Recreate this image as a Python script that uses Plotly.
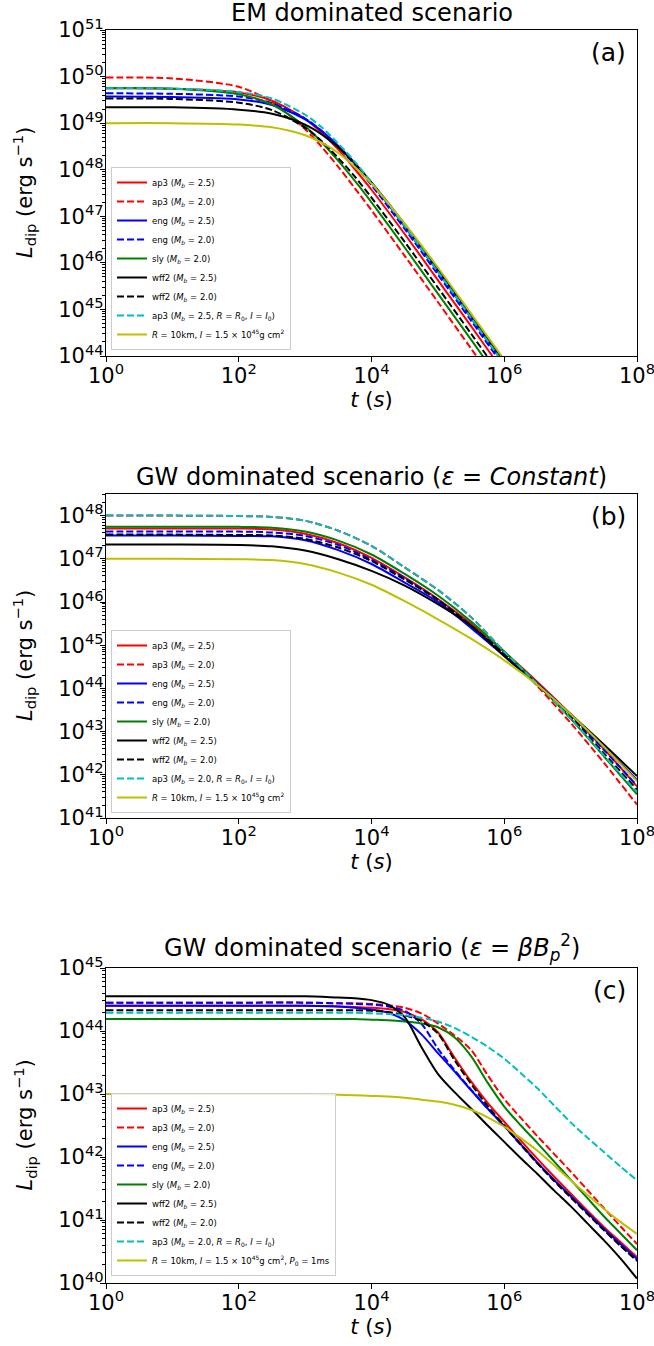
import numpy as np
import plotly.graph_objects as go

# ---------------- data (log10 values) ----------------
# panel (a): EM dominated
ta = [0, 1, 2, 2.5, 3, 3.25, 3.5, 3.75, 4, 4.5, 5, 5.5, 6, 6.5]
a_ap3_25 = [49.75, 49.74, 49.66, 49.48, 49.09, 48.79, 48.43, 48.01, 47.57, 46.62, 45.63, 44.64, 43.64, 42.64]
a_ap3_20 = [49.98, 49.96, 49.78, 49.46, 48.87, 48.49, 48.06, 47.60, 47.13, 46.15, 45.16, 44.16, 43.16, 42.16]
a_eng_25 = [49.57, 49.56, 49.51, 49.39, 49.08, 48.83, 48.51, 48.14, 47.71, 46.78, 45.81, 44.82, 43.82, 42.82]
a_eng_20 = [49.64, 49.63, 49.57, 49.43, 49.10, 48.83, 48.49, 48.10, 47.67, 46.73, 45.75, 44.76, 43.76, 42.76]
a_sly_20 = [49.75, 49.74, 49.62, 49.40, 48.93, 48.59, 48.19, 47.76, 47.30, 46.33, 45.34, 44.35, 43.35, 42.35]
a_wff2_25 = [49.34, 49.34, 49.29, 49.20, 48.97, 48.76, 48.48, 48.13, 47.73, 46.83, 45.86, 44.88, 43.88, 42.88]
a_wff2_20 = [49.53, 49.52, 49.44, 49.28, 48.90, 48.61, 48.25, 47.85, 47.40, 46.45, 45.47, 44.48, 43.48, 42.48]
a_ap3_R0 = [49.75, 49.74, 49.67, 49.53, 49.18, 48.91, 48.56, 48.17, 47.73, 46.79, 45.81, 44.82, 43.82, 42.82]
a_R10 = [49.00, 49.00, 48.97, 48.91, 48.74, 48.58, 48.36, 48.06, 47.70, 46.84, 45.90, 44.91, 43.92, 42.92]

# panel (b): GW dominated, eps constant
tb = [0, 1, 2, 2.5, 3, 3.5, 4, 4.5, 5, 5.5, 6, 6.5, 7, 7.5, 8]
b_ap3_25 = [47.70, 47.70, 47.70, 47.68, 47.58, 47.36, 47.02, 46.57, 46.07, 45.50, 44.85, 44.15, 43.40, 42.60, 41.73]
b_ap3_20 = [48.00, 48.00, 47.99, 47.97, 47.88, 47.65, 47.30, 46.80, 46.28, 45.65, 44.85, 44.05, 43.20, 42.28, 41.31]
b_eng_25 = [47.54, 47.54, 47.53, 47.52, 47.43, 47.20, 46.88, 46.45, 46.00, 45.40, 44.75, 44.10, 43.40, 42.65, 41.88]
b_eng_20 = [47.63, 47.63, 47.63, 47.61, 47.53, 47.32, 46.98, 46.55, 46.05, 45.45, 44.80, 44.12, 43.38, 42.58, 41.75]
b_sly_20 = [47.74, 47.74, 47.74, 47.72, 47.63, 47.42, 47.10, 46.65, 46.15, 45.55, 44.85, 44.10, 43.30, 42.43, 41.55]
b_wff2_25 = [47.33, 47.33, 47.32, 47.29, 47.19, 46.99, 46.72, 46.38, 45.95, 45.45, 44.75, 44.08, 43.40, 42.70, 41.97]
b_wff2_20 = [47.56, 47.56, 47.55, 47.54, 47.46, 47.26, 46.95, 46.52, 46.05, 45.45, 44.80, 44.10, 43.35, 42.50, 41.66]
b_ap3_R0 = [48.00, 48.00, 47.99, 47.97, 47.88, 47.65, 47.30, 46.80, 46.28, 45.65, 44.85, 44.10, 43.30, 42.45, 41.60]
b_R10 = [47.00, 47.00, 46.99, 46.97, 46.88, 46.68, 46.40, 46.02, 45.60, 45.15, 44.65, 44.08, 43.40, 42.65, 41.85]

# panel (c): GW dominated, eps = beta Bp^2
tc = [0, 1, 2, 3, 3.5, 3.75, 4, 4.25, 4.5, 4.75, 5, 5.25, 5.5, 5.75, 6, 6.25, 6.5, 6.75, 7, 7.25, 7.5, 7.75, 8]
c_ap3_25 = [44.40, 44.40, 44.40, 44.40, 44.39, 44.38, 44.37, 44.35, 44.30, 44.19, 43.98, 43.58, 43.20, 42.86,
            42.56, 42.26, 41.97, 41.69, 41.42, 41.15, 40.89, 40.65, 40.41]
c_ap3_20 = [44.45, 44.45, 44.45, 44.45, 44.44, 44.44, 44.43, 44.41, 44.37, 44.28, 44.12, 43.93, 43.70, 43.30,
            42.92, 42.62, 42.33, 42.05, 41.77, 41.48, 41.19, 40.90, 40.62]
c_eng_25 = [44.40, 44.40, 44.40, 44.40, 44.39, 44.37, 44.34, 44.29, 44.17, 43.95, 43.65, 43.36, 43.06, 42.77,
            42.49, 42.20, 41.91, 41.64, 41.38, 41.12, 40.86, 40.62, 40.38]
c_eng_20 = [44.45, 44.45, 44.45, 44.45, 44.44, 44.43, 44.42, 44.39, 44.32, 44.12, 43.72, 43.38, 43.07, 42.77,
            42.49, 42.19, 41.90, 41.63, 41.37, 41.11, 40.85, 40.60, 40.36]
c_sly_20 = [44.19, 44.19, 44.19, 44.19, 44.19, 44.19, 44.18, 44.17, 44.15, 44.12, 44.06, 43.90, 43.60, 43.18,
            42.80, 42.50, 42.22, 41.93, 41.64, 41.35, 41.06, 40.79, 40.52]
c_wff2_25 = [44.55, 44.55, 44.55, 44.55, 44.53, 44.52, 44.49, 44.42, 44.22, 43.75, 43.32, 43.03, 42.77, 42.50,
             42.24, 41.98, 41.73, 41.47, 41.22, 40.95, 40.68, 40.39, 40.07]
c_wff2_20 = [44.33, 44.33, 44.33, 44.33, 44.33, 44.33, 44.32, 44.30, 44.25, 44.16, 43.96, 43.54, 43.16, 42.81,
             42.50, 42.20, 41.90, 41.62, 41.36, 41.10, 40.84, 40.59, 40.35]
c_ap3_R0 = [44.29, 44.29, 44.29, 44.29, 44.29, 44.29, 44.28, 44.27, 44.25, 44.21, 44.15, 44.05, 43.91, 43.75,
            43.56, 43.33, 43.09, 42.82, 42.55, 42.31, 42.08, 41.85, 41.63]
c_R10 = [43.00, 43.00, 43.00, 43.00, 42.99, 42.98, 42.97, 42.96, 42.94, 42.91, 42.88, 42.83, 42.75, 42.63,
         42.48, 42.30, 42.10, 41.87, 41.63, 41.40, 41.18, 40.97, 40.78]

x_tick_exp = [0, 2, 4, 6, 8]
ya_tick_exp = [44, 45, 46, 47, 48, 49, 50, 51]
yb_tick_exp = [41, 42, 43, 44, 45, 46, 47, 48]
yc_tick_exp = [40, 41, 42, 43, 44, 45]

mb = "(<i>M</i><sub><i>b</i></sub> = "
names_common = [
    "ap3 " + mb + "2.5)", "ap3 " + mb + "2.0)",
    "eng " + mb + "2.5)", "eng " + mb + "2.0)",
    "sly " + mb + "2.0)",
    "wff2 " + mb + "2.5)", "wff2 " + mb + "2.0)",
]
cyan_a = "ap3 " + mb + "2.5, <i>R</i> = <i>R</i><sub>0</sub>, <i>I</i> = <i>I</i><sub>0</sub>)"
cyan_bc = "ap3 " + mb + "2.0, <i>R</i> = <i>R</i><sub>0</sub>, <i>I</i> = <i>I</i><sub>0</sub>)"
yel_ab = "<i>R</i> = 10km, <i>I</i> = 1.5 × 10<sup>45</sup>g cm<sup>2</sup>"
yel_c = yel_ab + ", <i>P</i><sub>0</sub> = 1ms"

colors = ["#ff0000", "#ff0000", "#0000ff", "#0000ff", "#008000", "#000000", "#000000", "#00bfbf", "#bfbf00"]
dashes = ["solid", "7px,3px", "solid", "7px,3px", "solid", "solid", "7px,3px", "7px,3px", "solid"]

panels = [
    (ta, [a_ap3_25, a_ap3_20, a_eng_25, a_eng_20, a_sly_20, a_wff2_25, a_wff2_20, a_ap3_R0, a_R10],
     names_common + [cyan_a, yel_ab], "x", "y", "legend"),
    (tb, [b_ap3_25, b_ap3_20, b_eng_25, b_eng_20, b_sly_20, b_wff2_25, b_wff2_20, b_ap3_R0, b_R10],
     names_common + [cyan_bc, yel_ab], "x2", "y2", "legend2"),
    (tc, [c_ap3_25, c_ap3_20, c_eng_25, c_eng_20, c_sly_20, c_wff2_25, c_wff2_20, c_ap3_R0, c_R10],
     names_common + [cyan_bc, yel_c], "x3", "y3", "legend3"),
]

fig = go.Figure()
for t_exp, series, names, xa, ya, lg in panels:
    tt = np.power(10.0, np.array(t_exp, dtype=float))
    for s, nm, col, ds in zip(series, names, colors, dashes):
        fig.add_trace(go.Scatter(
            x=tt, y=np.power(10.0, np.array(s, dtype=float)), mode="lines", name=nm,
            line=dict(color=col, width=2, dash=ds, shape="spline", smoothing=0.8),
            xaxis=xa, yaxis=ya, legend=lg, showlegend=True))

FONT = "DejaVu Sans"
L, R, T, B = 106, 17, 30, 63
W, H = 654, 1346
ph = H - T - B
pw = W - L - R


def yfrac(px):
    return (H - B - px) / ph


doms = [(yfrac(356), 1.0), (yfrac(818), yfrac(494)), (0.0, yfrac(968))]
yranges = [[44, 51], [41, 48.5], [40, 45]]
ytexp = [ya_tick_exp, yb_tick_exp, yc_tick_exp]

layout = dict(
    width=W, height=H, margin=dict(l=L, r=R, t=T, b=B),
    paper_bgcolor="white", plot_bgcolor="white",
    font=dict(family=FONT, color="black"),
    showlegend=True,
)

axis_common = dict(showline=True, mirror=True, linecolor="black", linewidth=1.2,
                   ticks="outside", tickcolor="black", ticklen=5, tickwidth=1.2,
                   showgrid=False, zeroline=False, automargin=False,
                   ticklabeloverflow="allow",
                   tickfont=dict(family=FONT, size=21, color="black"))

for i in range(3):
    sfx = "" if i == 0 else str(i + 1)
    layout["xaxis" + sfx] = dict(
        axis_common, type="log", range=[0, 8], domain=[0, 1], anchor="y" + sfx,
        tickmode="array", tickvals=[10.0 ** e for e in x_tick_exp],
        ticktext=["10<sup>%d</sup>" % e for e in x_tick_exp],
        ticklabelstandoff=-4,
        title=dict(text="<i>t</i> (<i>s</i>)", font=dict(family=FONT, size=21), standoff=2))
    layout["yaxis" + sfx] = dict(
        axis_common, type="log", range=yranges[i], domain=list(doms[i]), anchor="x" + sfx,
        tickmode="array", tickvals=[10.0 ** e for e in ytexp[i]],
        ticktext=["10<sup>%d</sup>" % e for e in ytexp[i]],
        ticklabelstandoff=-8,
        minor=dict(ticks="outside", ticklen=2.5, tickcolor="black", tickwidth=1, dtick="D1", showgrid=False))

leg_common = dict(x=0.0094, xanchor="left", yanchor="bottom",
                  bgcolor="rgba(255,255,255,0.8)", bordercolor="#cccccc", borderwidth=1,
                  font=dict(family=FONT, size=8.5, color="black"), itemwidth=30, tracegroupgap=0)
layout["legend"] = dict(leg_common, y=yfrac(350))
layout["legend2"] = dict(leg_common, y=yfrac(813))
layout["legend3"] = dict(leg_common, y=yfrac(1276))

titles = ["EM dominated scenario",
          "GW dominated scenario (<i>ε</i> = <i>Constant</i>)",
          "GW dominated scenario (<i>ε</i> = <i>βB</i><sub><i>p</i></sub><sup>2</sup>)"]
labels = ["(a)", "(b)", "(c)"]
ann = []
for i in range(3):
    top = doms[i][1]
    ann.append(dict(text=titles[i], x=0.5, y=top, xref="paper", yref="paper",
                    xanchor="center", yanchor="bottom", yshift=1, showarrow=False,
                    font=dict(family=FONT, size=24, color="black")))
    ann.append(dict(text=labels[i], x=0.983, y=top, xref="paper", yref="paper",
                    xanchor="right", yanchor="top", yshift=-6, showarrow=False,
                    font=dict(family=FONT, size=25, color="black")))
    ann.append(dict(text="<i>L</i><sub>dip</sub> (erg s<sup>−1</sup>)",
                    x=(24 - L) / pw, y=(doms[i][0] + doms[i][1]) / 2, xref="paper", yref="paper",
                    xanchor="center", yanchor="middle", textangle=-90, showarrow=False,
                    font=dict(family=FONT, size=21, color="black")))
layout["annotations"] = ann

fig.update_layout(**layout)
fig.write_html("out.html", config={"displayModeBar": False},
               post_script="document.body.style.margin='0px';")
